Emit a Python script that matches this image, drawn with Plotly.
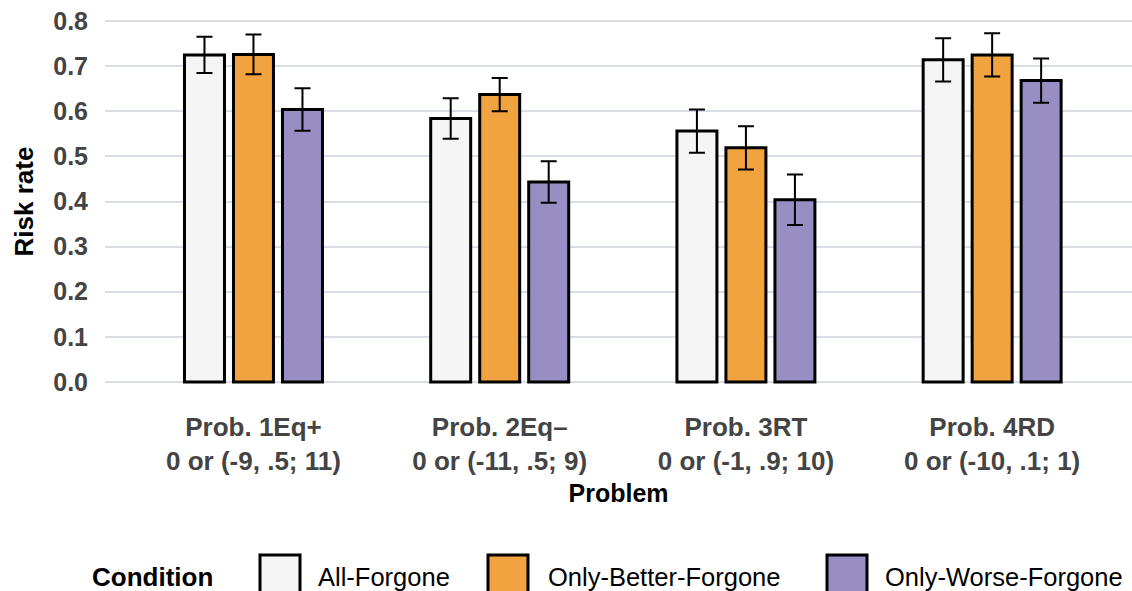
import plotly.graph_objects as go

# Problems on the x axis (two-line labels)
problems = [
    "Prob. 1Eq+<br>0 or (-9, .5; 11)",
    "Prob. 2Eq–<br>0 or (-11, .5; 9)",
    "Prob. 3RT<br>0 or (-1, .9; 10)",
    "Prob. 4RD<br>0 or (-10, .1; 1)",
]

conditions = ["All-Forgone", "Only-Better-Forgone", "Only-Worse-Forgone"]

# Mean risk rate per condition, one value per problem
all_forgone = [0.725, 0.584, 0.556, 0.714]
only_better = [0.726, 0.637, 0.519, 0.725]
only_worse = [0.604, 0.443, 0.404, 0.668]

# Error-bar half widths
all_forgone_err = [0.040, 0.045, 0.048, 0.048]
only_better_err = [0.044, 0.037, 0.048, 0.048]
only_worse_err = [0.047, 0.046, 0.056, 0.049]

colors = ["#f5f5f5", "#f1a340", "#998ec3"]

W, H = 1132, 591
L, R, T, B = 105, 0, 3, 191
FONT = "Arial, Liberation Sans, sans-serif"

fig = go.Figure()
series = [
    (all_forgone, all_forgone_err),
    (only_better, only_better_err),
    (only_worse, only_worse_err),
]
for name, (vals, errs), col in zip(conditions, series, colors):
    fig.add_trace(go.Bar(
        name=name,
        x=list(range(len(problems))),
        y=vals,
        marker=dict(color=col, line=dict(color="black", width=3)),
        error_y=dict(type="data", array=errs, visible=True,
                     color="black", thickness=2, width=8),
        showlegend=False,
    ))

fig.update_layout(
    width=W, height=H,
    margin=dict(l=L, r=R, t=T, b=B),
    paper_bgcolor="white",
    plot_bgcolor="white",
    barmode="group",
    bargap=0.403,
    bargroupgap=0.184,
    font=dict(family=FONT, color="#333333"),
)

fig.update_xaxes(
    range=[-0.603, 3.568],
    tickmode="array",
    tickvals=list(range(len(problems))),
    ticktext=problems,
    tickfont=dict(size=26, weight="bold", color="#444444"),
    ticks="",
    ticklabelstandoff=9,
    showgrid=False,
    zeroline=False,
    showline=False,
    title=dict(text="Problem", font=dict(size=25, weight="bold", color="black"),
               standoff=9),
)

fig.update_yaxes(
    range=[-0.04, 0.84],
    tickmode="array",
    tickvals=[0.0, 0.1, 0.2, 0.3, 0.4, 0.5, 0.6, 0.7, 0.8],
    ticktext=["0.0", "0.1", "0.2", "0.3", "0.4", "0.5", "0.6", "0.7", "0.8"],
    tickfont=dict(size=25, weight="bold", color="#444444"),
    ticks="",
    ticklabelstandoff=16,
    showgrid=True,
    gridcolor="#d9dde6",
    gridwidth=1.5,
    zeroline=False,
    showline=False,
    title=dict(text="Risk rate", font=dict(size=26, weight="bold", color="black"),
               standoff=12),
)

# Legend drawn at the bottom: title, keys and labels
plot_w = W - L - R
plot_h = H - T - B


def px_x(x):
    return (x - L) / plot_w


def px_y(y):
    return (H - B - y) / plot_h


legend_y = 577
fig.add_annotation(
    text="<b>Condition</b>", x=px_x(90), y=px_y(legend_y),
    xref="paper", yref="paper", xanchor="left", yanchor="middle",
    showarrow=False, font=dict(size=26, color="black", family=FONT),
)

key_left = [260, 488, 827]
label_left = [316, 546, 883]
for name, col, kx, lx in zip(conditions, colors, key_left, label_left):
    fig.add_shape(
        type="rect", xref="paper", yref="paper",
        x0=px_x(kx), x1=px_x(kx + 40), y0=px_y(555), y1=px_y(598),
        fillcolor=col, line=dict(color="black", width=3),
    )
    fig.add_annotation(
        text=name, x=px_x(lx), y=px_y(legend_y),
        xref="paper", yref="paper", xanchor="left", yanchor="middle",
        showarrow=False, font=dict(size=25.5, color="black", family=FONT),
    )

fig.write_html("out.html")
